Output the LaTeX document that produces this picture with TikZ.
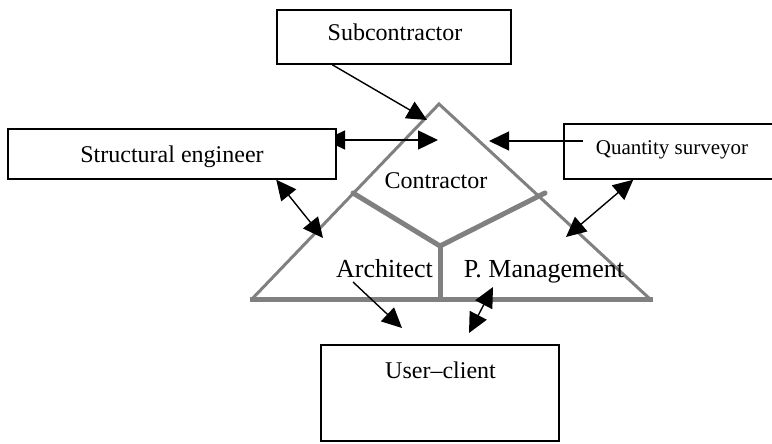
\documentclass[tikz,border=0pt]{standalone}
\usepackage{fontspec}
\setmainfont{Liberation Serif}
\usetikzlibrary{arrows.meta}
\definecolor{wallgray}{RGB}{128,128,128}
\tikzset{
  box/.style={draw=black, line width=1.5pt, fill=white, inner sep=0pt},
  lbl/.style={anchor=base, inner sep=0pt, font=\fontsize{24}{28}\selectfont},
  biglbl/.style={anchor=base, inner sep=0pt, font=\fontsize{26}{30}\selectfont},
  smalllbl/.style={anchor=base, inner sep=0pt, font=\fontsize{21}{25}\selectfont},
  side/.style={draw=wallgray, line width=3pt, line join=miter},
  split/.style={draw=wallgray, line width=5pt, line cap=round},
  link/.style={line width=1.4pt, -{Triangle[length=20pt,width=19pt]}},
  link2/.style={line width=1.4pt, {Triangle[length=20pt,width=19pt]}-{Triangle[length=20pt,width=19pt]}}
}
\begin{document}
\begin{tikzpicture}[x=1pt, y=-1pt]
\useasboundingbox (0,0) rectangle (772,444);

% organisation triangle
\coordinate (apex) at (439,104);
\coordinate (bl) at (252,299);
\coordinate (br) at (650,299);
\coordinate (hub) at (440,246);
\coordinate (yl) at (353,193);
\coordinate (yr) at (545,193);
\coordinate (yb) at (440,299);
\draw[side] (bl) -- (apex) -- (br);
\draw[draw=wallgray, line width=5pt] (250,299) -- (653,299);
\draw[split] (yl) -- (hub) -- (yr);
\draw[draw=wallgray, line width=5pt] (hub) -- (yb);

% connector that starts inside the engineer box
\coordinate (seIn) at (325,140);
\coordinate (conL) at (438,140);
\draw[link2] (seIn) -- (conL);

% participant boxes
\node[box, minimum width=234pt, minimum height=54pt] (sub) at (394,37) {};
\node[box, minimum width=328pt, minimum height=50pt] (se) at (172,154) {};
\node[box, minimum width=226pt, minimum height=55pt] (qs) at (677,151.5) {};
\node[box, minimum width=238pt, minimum height=96pt] (user) at (440,393) {};

% labels
\node[lbl] (subT) at (395,41) {Subcontractor};
\node[lbl] (seT) at (172,162) {Structural engineer};
\node[smalllbl] (qsT) at (672,154) {Quantity surveyor};
\node[lbl] (userT) at (440.5,378) {User--client};
\node[lbl] (conT) at (436,188) {Contractor};
\node[biglbl] (archT) at (384.5,277) {Architect};
\node[biglbl] (pmT) at (544,277) {P. Management};

% connector end points
\coordinate (subOut) at ([xshift=56pt]sub.south west);
\coordinate (apexIn) at (427,120);
\coordinate (qsIn) at (583,141);
\coordinate (rsTop) at (489,141);
\coordinate (seOut) at ([xshift=269pt]se.south west);
\coordinate (lsMid) at (323,238);
\coordinate (qsOut) at ([xshift=70pt]qs.south west);
\coordinate (rsMid) at (566,237);
\coordinate (archOut) at (353,282);
\coordinate (userA) at (402,328);
\coordinate (userB) at (469,333);
\coordinate (pmIn) at (493,287);

% connectors
\draw[link] (subOut) -- (apexIn);
\draw[link] (qsIn) -- (rsTop);
\draw[link2] (seOut) -- (lsMid);
\draw[link2] (qsOut) -- (rsMid);
\draw[link] (archOut) -- (userA);
\draw[link2] (userB) -- (pmIn);
\end{tikzpicture}
\end{document}
